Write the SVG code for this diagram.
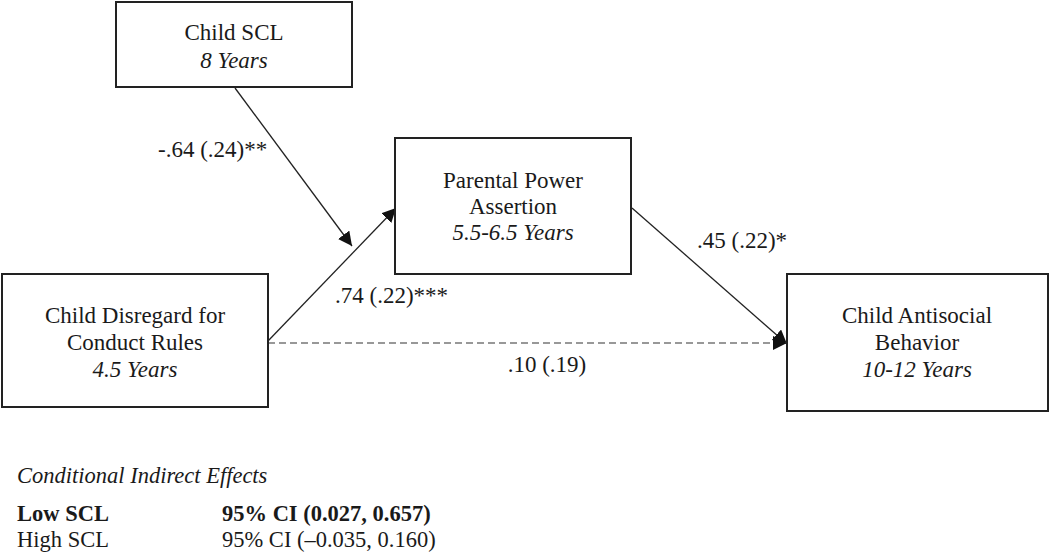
<svg xmlns="http://www.w3.org/2000/svg" width="1050" height="554" viewBox="0 0 1050 554">
<style>
text{font-family:"Liberation Serif","Times New Roman",serif;font-size:23px;fill:#1a1a1a}
.c{text-anchor:middle}
.i{font-style:italic}
.b{font-weight:bold}
.lg{font-size:22.5px}
.box{fill:#fff;stroke:#222;stroke-width:2}
.ln{stroke:#222;stroke-width:1.3;fill:none}
.dash{stroke:#777;stroke-width:1.5;stroke-dasharray:7 4;fill:none}
</style>
<defs>
<marker id="ah" viewBox="0 0 10 10" refX="10" refY="5" markerWidth="14" markerHeight="14" markerUnits="userSpaceOnUse" orient="auto">
<path d="M0,0 L10,5 L0,10 z" fill="#111"/>
</marker>
</defs>
<rect width="1050" height="554" fill="#fff"/>
<g id="connectors">
<line class="ln" x1="235" y1="88" x2="352" y2="246" marker-end="url(#ah)"/>
<line class="ln" x1="268" y1="341" x2="396" y2="208" marker-end="url(#ah)"/>
<line class="ln" x1="632" y1="208" x2="787" y2="344" marker-end="url(#ah)"/>
<line class="dash" x1="268" y1="343" x2="787" y2="343" marker-end="url(#ah)"/>
<text x="158" y="157">-.64 (.24)**</text>
<text x="335" y="303">.74 (.22)***</text>
<text x="697" y="248">.45 (.22)*</text>
<text class="c" x="547" y="372">.10 (.19)</text>
</g>
<g id="node-scl">
<rect class="box" x="116" y="2" width="236" height="85"/>
<text class="c" x="234" y="40">Child SCL</text>
<text class="c i" x="234" y="68">8 Years</text>
</g>
<g id="node-parental">
<rect class="box" x="395" y="138" width="236" height="136"/>
<text class="c" x="513" y="188">Parental Power</text>
<text class="c" x="513" y="214">Assertion</text>
<text class="c i" x="513" y="240">5.5-6.5 Years</text>
</g>
<g id="node-disregard">
<rect class="box" x="2" y="274" width="266" height="133"/>
<text class="c" x="135" y="323">Child Disregard for</text>
<text class="c" x="135" y="350">Conduct Rules</text>
<text class="c i" x="135" y="377">4.5 Years</text>
</g>
<g id="node-antisocial">
<rect class="box" x="787" y="274" width="261" height="137"/>
<text class="c" x="917" y="323">Child Antisocial</text>
<text class="c" x="917" y="350">Behavior</text>
<text class="c i" x="917" y="377">10-12 Years</text>
</g>
<g id="legend">
<text class="i lg" x="17" y="483">Conditional Indirect Effects</text>
<text class="b lg" x="17" y="521">Low SCL</text>
<text class="b lg" x="222" y="521">95% CI (0.027, 0.657)</text>
<text class="lg" x="17" y="547">High SCL</text>
<text class="lg" x="222" y="547">95% CI (–0.035, 0.160)</text>
</g>
</svg>
